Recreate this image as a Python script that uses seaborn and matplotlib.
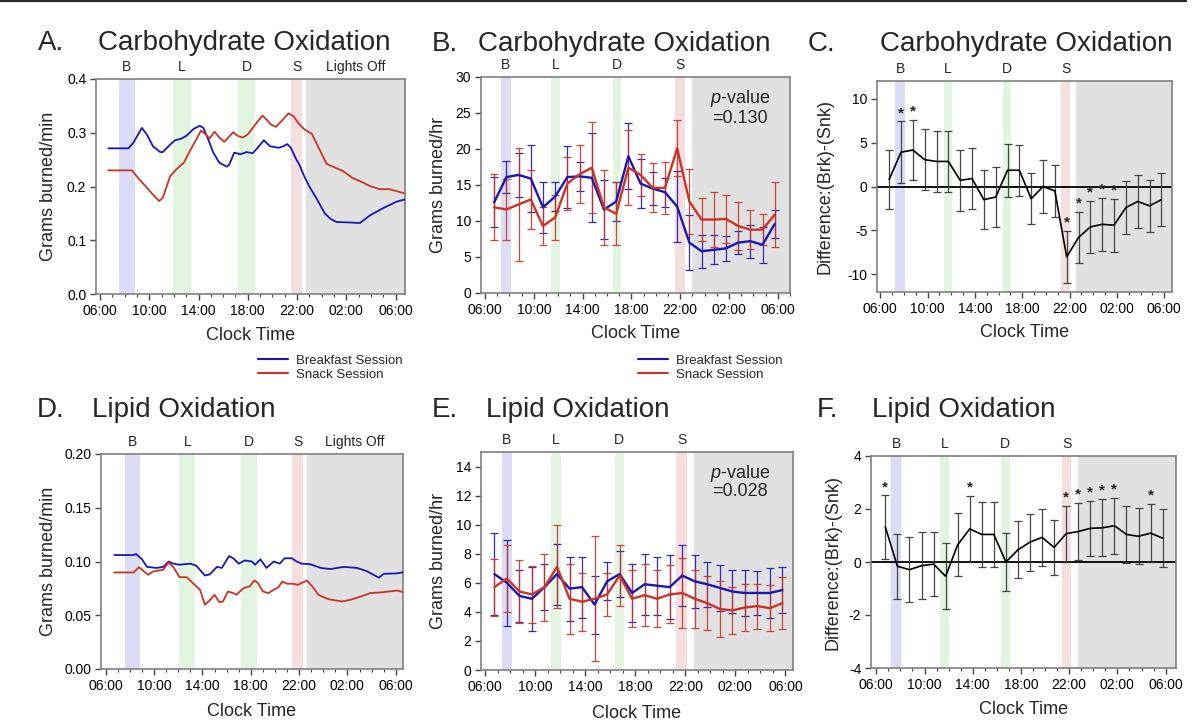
import numpy as np
import pandas as pd
import seaborn as sns
import matplotlib.pyplot as plt
from matplotlib.ticker import MultipleLocator, FuncFormatter, FormatStrFormatter
from matplotlib.lines import Line2D

# ---------------- data ----------------
# hourly sample times (clock hours, 24+ = next day)
hours = [6.75 + i for i in range(24)]

# A. carbohydrate oxidation, continuous (g/min)
a_brk_t = [6.68, 8.3, 8.7, 9.4, 9.8, 10.3, 10.9, 11.1, 11.7, 12.1, 12.6, 13.0, 13.6, 14.1, 14.4,
           14.8, 15.2, 15.7, 16.3, 16.5, 16.9, 17.4, 17.9, 18.4, 18.8, 19.3, 19.8, 20.5, 20.9,
           21.2, 21.5, 21.9, 22.2, 22.6, 23.0, 23.6, 24.25, 24.7, 25.2, 26.3, 27.1, 27.9, 29.0,
           30.1, 30.76]
a_brk = [0.271, 0.271, 0.281, 0.309, 0.297, 0.275, 0.264, 0.264, 0.278, 0.286, 0.289, 0.294,
         0.307, 0.313, 0.309, 0.287, 0.263, 0.244, 0.237, 0.241, 0.263, 0.260, 0.264, 0.262,
         0.272, 0.286, 0.275, 0.272, 0.275, 0.279, 0.272, 0.252, 0.240, 0.218, 0.200, 0.177,
         0.150, 0.140, 0.134, 0.133, 0.132, 0.146, 0.160, 0.172, 0.176]
a_snk_t = [6.68, 8.6, 9.2, 9.8, 10.3, 10.8, 11.1, 11.7, 12.2, 12.8, 13.3, 13.8, 14.2, 14.6, 14.9,
           15.3, 15.7, 16.1, 16.8, 17.2, 17.6, 18.0, 18.4, 18.8, 19.2, 19.5, 19.9, 20.3, 20.7,
           21.3, 21.7, 22.1, 22.6, 23.2, 23.8, 24.4, 25.0, 25.7, 26.5, 27.1, 27.9, 28.7, 29.5,
           30.76]
a_snk = [0.230, 0.230, 0.213, 0.198, 0.185, 0.173, 0.179, 0.219, 0.232, 0.244, 0.266, 0.287,
         0.304, 0.297, 0.289, 0.302, 0.291, 0.283, 0.301, 0.294, 0.291, 0.297, 0.309, 0.321,
         0.332, 0.325, 0.315, 0.311, 0.321, 0.336, 0.331, 0.318, 0.306, 0.298, 0.270, 0.242,
         0.236, 0.229, 0.216, 0.210, 0.201, 0.195, 0.195, 0.187]

# B. carbohydrate oxidation, hourly (g/hr) mean and SD
b_brk = [12.6, 16.1, 16.4, 15.9, 11.9, 13.4, 16.1, 16.2, 16.0, 11.6, 12.7, 19.0,
         15.2, 14.5, 14.0, 12.0, 7.0, 5.8, 6.0, 6.2, 7.0, 7.2, 6.7, 9.6]
b_brk_sd = [3.5, 2.2, 3.0, 4.6, 3.5, 2.0, 4.3, 2.0, 6.2, 4.1, 2.7, 4.6,
            3.4, 2.3, 2.0, 4.9, 3.8, 2.3, 2.0, 1.7, 1.6, 2.3, 2.5, 1.9]
b_snk = [11.9, 11.6, 12.3, 13.0, 9.3, 10.5, 15.2, 16.5, 17.4, 11.9, 11.0, 17.4,
         16.4, 14.6, 14.6, 20.1, 12.7, 10.2, 10.2, 10.3, 9.3, 8.8, 8.8, 10.9]
b_snk_sd = [4.6, 4.2, 7.9, 4.1, 2.7, 3.1, 3.7, 4.0, 6.3, 5.2, 4.4, 5.2,
            2.9, 3.4, 3.6, 3.9, 4.5, 3.0, 3.8, 3.3, 3.3, 2.7, 2.2, 4.5]

# C. carbohydrate difference (Brk - Snk)
c_diff = [0.8, 3.9, 4.15, 3.05, 2.85, 2.85, 0.7, 0.9, -1.5, -1.2, 1.85, 1.85,
          -1.4, 0.0, -0.5, -8.0, -5.8, -4.6, -4.3, -4.4, -2.4, -1.7, -2.2, -1.5]
c_sd = [3.35, 3.5, 3.45, 3.5, 3.45, 3.5, 3.45, 3.45, 3.35, 3.4, 3.0, 2.9,
        2.9, 3.0, 3.0, 2.95, 2.9, 2.95, 3.0, 3.0, 3.05, 3.0, 2.95, 3.0]
c_sig = [1, 2, 15, 16, 17, 18, 19]

# D. lipid oxidation, continuous (g/min)
d_brk_t = [6.69, 8.3, 8.5, 9.0, 9.4, 10.2, 10.75, 11.2, 11.6, 12.1, 13.0, 13.5, 14.2, 14.6,
           15.2, 15.6, 16.2, 16.55, 17.0, 17.5, 18.1, 18.35, 18.8, 19.3, 19.9, 20.4, 20.8,
           21.4, 21.8, 22.2, 22.9, 23.8, 24.6, 25.7, 26.8, 27.6, 28.6, 29.0, 30.1, 30.6]
d_brk = [0.106, 0.106, 0.107, 0.102, 0.095, 0.094, 0.095, 0.100, 0.098, 0.097, 0.098, 0.096,
         0.087, 0.088, 0.095, 0.094, 0.105, 0.103, 0.098, 0.101, 0.100, 0.097, 0.102, 0.094,
         0.100, 0.098, 0.103, 0.103, 0.100, 0.098, 0.0975, 0.094, 0.093, 0.095, 0.094, 0.091,
         0.085, 0.0885, 0.089, 0.090]
d_snk_t = [6.69, 8.3, 8.75, 9.1, 9.5, 9.9, 10.75, 11.2, 11.6, 12.1, 12.7, 13.2, 13.8, 14.2,
           14.6, 15.0, 15.4, 15.7, 16.1, 16.55, 16.8, 17.4, 17.9, 18.3, 18.6, 19.0, 19.45,
           19.9, 20.3, 20.6, 21.0, 21.5, 21.9, 22.2, 22.65, 23.1, 23.6, 24.4, 25.55, 26.25,
           27.1, 27.9, 29.0, 30.1, 30.6]
d_snk = [0.0898, 0.0898, 0.0947, 0.0913, 0.0876, 0.0907, 0.0923, 0.0991, 0.0947, 0.0854,
         0.0854, 0.0799, 0.0737, 0.0598, 0.0638, 0.0690, 0.0622, 0.0628, 0.0721, 0.0706,
         0.0690, 0.0752, 0.0768, 0.0824, 0.0799, 0.0721, 0.0706, 0.0737, 0.0762, 0.0814,
         0.0793, 0.0793, 0.0783, 0.0800, 0.0823, 0.0767, 0.0690, 0.0650, 0.0628, 0.0644,
         0.0674, 0.0706, 0.0715, 0.0730, 0.0715]

# E. lipid oxidation, hourly (g/hr) mean and SD
e_brk = [6.6, 6.0, 5.1, 4.9, 5.7, 6.6, 5.6, 5.7, 4.5, 6.1, 6.6, 5.3,
         5.9, 5.8, 5.7, 6.5, 6.1, 5.9, 5.65, 5.4, 5.3, 5.3, 5.3, 5.5]
e_brk_sd = [2.8, 2.95, 1.8, 2.2, 1.6, 2.1, 2.2, 2.1, 2.0, 1.3, 1.6, 2.0,
            2.1, 2.0, 2.2, 2.1, 1.8, 1.55, 1.6, 1.5, 1.6, 1.5, 1.7, 1.6]
e_snk = [5.7, 6.3, 5.4, 5.2, 5.7, 7.1, 4.9, 4.7, 4.9, 5.2, 6.5, 4.9,
         5.15, 4.9, 5.2, 5.3, 4.9, 4.6, 4.2, 4.1, 4.3, 4.4, 4.25, 4.6]
e_snk_sd = [1.95, 2.3, 2.2, 1.95, 2.3, 2.85, 2.4, 2.0, 4.3, 1.45, 2.1, 1.95,
            2.15, 1.95, 2.0, 2.4, 2.0, 1.85, 1.9, 1.6, 1.6, 1.55, 1.6, 1.8]

# F. lipid difference (Brk - Snk)
f_diff = [1.32, -0.16, -0.29, -0.14, -0.08, -0.54, 0.65, 1.25, 1.04, 1.04, 0.0, 0.46,
          0.75, 0.93, 0.55, 1.07, 1.15, 1.27, 1.29, 1.37, 1.04, 0.97, 1.09, 0.9]
f_sd = [1.19, 1.23, 1.22, 1.26, 1.22, 1.24, 1.19, 1.25, 1.23, 1.22, 1.08, 1.07,
        1.08, 1.07, 1.05, 1.06, 1.07, 1.04, 1.08, 1.06, 1.06, 1.06, 1.09, 1.1]
f_sig = [0, 7, 15, 16, 17, 18, 19, 22]

meal_labels = ['B', 'L', 'D', 'S']

# ---------------- style ----------------
sns.set_theme(context='paper', style='ticks')
plt.rcParams['font.family'] = ['Liberation Sans', 'DejaVu Sans']
plt.rcParams['axes.unicode_minus'] = False
plt.rcParams['mathtext.fontset'] = 'custom'
plt.rcParams['mathtext.it'] = 'Liberation Sans:italic'
plt.rcParams['mathtext.rm'] = 'Liberation Sans'

BLUE = '#1818b4'
RED = '#cc3324'
BAND_COLORS = ['#dcdcf6', '#e2f5e0', '#e2f5e0', '#f5dede']
GRAY = '#e1e1e1'
SPINE = '#808080'
pal = {'Breakfast Session': BLUE, 'Snack Session': RED}

fig = plt.figure(figsize=(12, 7.28), dpi=100)


def add_ax(l, t, r, b):
    return fig.add_axes([l / 1200, 1 - b / 728, (r - l) / 1200, (b - t) / 728])


def setup(ax, xlim, bands, lights, lights_label=False):
    for (x0, x1), c, lab in zip(bands, BAND_COLORS, meal_labels):
        ax.axvspan(x0, x1, color=c, lw=0, zorder=0)
        ax.annotate(lab, xy=((x0 + x1) / 2, 1), xycoords=('data', 'axes fraction'),
                    xytext=(0, 3.5), textcoords='offset points',
                    ha='center', va='bottom', fontsize=10)
    ax.axvspan(lights, xlim[1], color=GRAY, lw=0, zorder=0)
    if lights_label:
        ax.annotate('Lights Off', xy=((lights + xlim[1]) / 2, 1),
                    xycoords=('data', 'axes fraction'), xytext=(0, 3.5),
                    textcoords='offset points', ha='center', va='bottom', fontsize=10)
    ax.set_xlim(*xlim)
    ax.set_xticks([6, 10, 14, 18, 22, 26, 30])
    ax.xaxis.set_minor_locator(MultipleLocator(1))
    ax.xaxis.set_major_formatter(FuncFormatter(lambda v, p: '%02d:00' % (int(round(v)) % 24)))
    ax.tick_params(which='major', direction='out', length=4, width=1, color='#444444',
                   labelsize=10, pad=3, labelcolor='black')
    ax.tick_params(which='minor', axis='x', direction='out', length=2.5, width=0.8,
                   color='#444444')
    ax.tick_params(which='minor', axis='y', length=0)
    for s in ax.spines.values():
        s.set_visible(True)
        s.set_color(SPINE)
        s.set_linewidth(1.2)
    ax.set_xlabel('Clock Time', fontsize=13)
    ax.set_facecolor('white')


def errbars(ax, x, y, sd, color):
    ax.errorbar(x, y, yerr=sd, fmt='none', ecolor=color, elinewidth=0.9,
                capsize=3.2, capthick=0.9, alpha=0.9, zorder=2)


def long_df(t1, v1, t2, v2):
    return pd.concat([
        pd.DataFrame({'hour': t1, 'value': v1, 'session': 'Breakfast Session'}),
        pd.DataFrame({'hour': t2, 'value': v2, 'session': 'Snack Session'}),
    ], ignore_index=True)


# ---------------- A ----------------
axA = add_ax(96, 79, 405, 294)
setup(axA, (5.68, 30.76), [(7.54, 8.84), (11.97, 13.38), (17.24, 18.62), (21.54, 22.43)],
      22.7, lights_label=True)
sns.lineplot(data=long_df(a_brk_t, a_brk, a_snk_t, a_snk), x='hour', y='value',
             hue='session', palette=pal, errorbar=None, lw=1.3, legend=False, ax=axA,
             zorder=3)
axA.set_ylim(0, 0.4)
axA.set_yticks([0, 0.1, 0.2, 0.3, 0.4])
axA.yaxis.set_major_formatter(FormatStrFormatter('%.1f'))
axA.set_ylabel('Grams burned/min', fontsize=13)

# ---------------- B ----------------
axB = add_ax(481, 77, 790, 293)
setup(axB, (5.67, 31.0), [(7.29, 8.11), (11.42, 12.11), (16.49, 17.18), (21.56, 22.36)], 22.93)
errbars(axB, hours, b_brk, b_brk_sd, BLUE)
errbars(axB, hours, b_snk, b_snk_sd, RED)
sns.lineplot(data=long_df(hours, b_brk, hours, b_snk), x='hour', y='value', hue='session',
             palette=pal, errorbar=None, lw=1.7, legend=False, ax=axB, zorder=3)
axB.set_ylim(0, 30)
axB.set_yticks(range(0, 31, 5))
axB.set_ylabel('Grams burned/hr', fontsize=13)
axB.text(0.838, 0.86, '$p$-value\n=0.130', transform=axB.transAxes, ha='center',
         va='center', fontsize=13, linespacing=1.1)

# ---------------- C ----------------
axC = add_ax(877, 81, 1172, 292)
setup(axC, (5.72, 30.65), [(7.27, 8.06), (11.35, 12.08), (16.34, 17.07), (21.3, 22.06)], 22.5)
axC.axhline(0, color='black', lw=1.3, zorder=2)
errbars(axC, hours, c_diff, c_sd, '#333333')
sns.lineplot(x=hours, y=c_diff, color='black', lw=1.2, ax=axC, zorder=3)
for i in c_sig:
    axC.annotate('*', xy=(hours[i], c_diff[i] + c_sd[i]), xytext=(0, 1),
                 textcoords='offset points', ha='center', va='bottom', fontsize=11,
                 fontweight='bold')
axC.set_ylim(-12, 12)
axC.set_yticks([-10, -5, 0, 5, 10])
axC.set_ylabel('Difference:(Brk)-(Snk)', fontsize=13)

# ---------------- D ----------------
axD = add_ax(101, 454, 403, 669)
setup(axD, (5.6, 30.6), [(7.57, 8.82), (12.08, 13.4), (17.16, 18.49), (21.44, 22.33)],
      22.63, lights_label=True)
sns.lineplot(data=long_df(d_brk_t, d_brk, d_snk_t, d_snk), x='hour', y='value',
             hue='session', palette=pal, errorbar=None, lw=1.3, legend=False, ax=axD,
             zorder=3)
axD.set_ylim(0, 0.2)
axD.set_yticks([0, 0.05, 0.10, 0.15, 0.20])
axD.yaxis.set_major_formatter(FormatStrFormatter('%.2f'))
axD.set_ylabel('Grams burned/min', fontsize=13)

# ---------------- E ----------------
axE = add_ax(481, 452, 793, 670)
setup(axE, (5.68, 30.6), [(7.33, 8.13), (11.28, 12.05), (16.35, 17.07), (21.28, 22.13)], 22.67)
errbars(axE, hours, e_brk, e_brk_sd, BLUE)
errbars(axE, hours, e_snk, e_snk_sd, RED)
sns.lineplot(data=long_df(hours, e_brk, hours, e_snk), x='hour', y='value', hue='session',
             palette=pal, errorbar=None, lw=1.7, legend=False, ax=axE, zorder=3)
axE.set_ylim(0, 15)
axE.set_yticks(range(0, 15, 2))
axE.set_ylabel('Grams burned/hr', fontsize=13)
axE.text(0.83, 0.865, '$p$-value\n=0.028', transform=axE.transAxes, ha='center',
         va='center', fontsize=13, linespacing=0.95)

# ---------------- F ----------------
axF = add_ax(871, 456, 1176, 668)
setup(axF, (5.56, 30.86), [(7.24, 8.04), (11.3, 12.0), (16.33, 17.05), (21.39, 22.16)], 22.7)
axF.axhline(0, color='black', lw=1.3, zorder=2)
errbars(axF, hours, f_diff, f_sd, '#333333')
sns.lineplot(x=hours, y=f_diff, color='black', lw=1.2, ax=axF, zorder=3)
for i in f_sig:
    axF.annotate('*', xy=(hours[i], f_diff[i] + f_sd[i]), xytext=(0, 1),
                 textcoords='offset points', ha='center', va='bottom', fontsize=11,
                 fontweight='bold')
axF.set_ylim(-4, 4)
axF.set_yticks([-4, -2, 0, 2, 4])
axF.set_ylabel('Difference:(Brk)-(Snk)', fontsize=13)

# label placement (axes coords)
for ax, yx, xy in [(axA, -0.126, -0.155), (axB, -0.111, -0.15), (axC, -0.149, -0.152),
                   (axD, -0.147, -0.16), (axE, -0.110, -0.16), (axF, -0.096, -0.155)]:
    ax.yaxis.set_label_coords(yx, 0.5)
    ax.xaxis.set_label_coords(0.5, xy)
    ax.xaxis.label.set_va('top')

# titles
for letter, lx, title, tx, ty in [('A.', 38, 'Carbohydrate Oxidation', 98, 43),
                                  ('B.', 432, 'Carbohydrate Oxidation', 478, 44),
                                  ('C.', 808, 'Carbohydrate Oxidation', 880, 44),
                                  ('D.', 37, 'Lipid Oxidation', 92, 410),
                                  ('E.', 432, 'Lipid Oxidation', 486, 410),
                                  ('F.', 817, 'Lipid Oxidation', 872, 410)]:
    fig.text(lx / 1200, 1 - ty / 728, letter, fontsize=20, ha='left', va='center')
    fig.text(tx / 1200, 1 - ty / 728, title, fontsize=20, ha='left', va='center')

# legends
handles = [Line2D([], [], color=BLUE, lw=1.5), Line2D([], [], color=RED, lw=1.5)]
labels = ['Breakfast Session', 'Snack Session']
for x0 in [258, 638]:
    fig.legend(handles, labels, loc='center left', bbox_to_anchor=(x0 / 1200, 1 - 367.5 / 728),
               frameon=False, fontsize=9.5, handlelength=2.3, handletextpad=0.6,
               labelspacing=0.15, borderpad=0, borderaxespad=0)

# rule across the top of the figure
fig.add_artist(Line2D([0, 0.988], [0.9985, 0.9985], color='#2a2a2a', lw=1.6))

fig.savefig('out.png', dpi=100)
